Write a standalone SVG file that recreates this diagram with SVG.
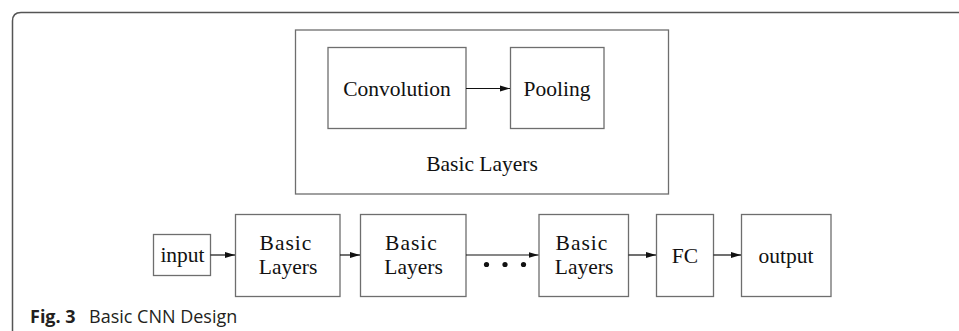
<svg xmlns="http://www.w3.org/2000/svg" width="959" height="331" viewBox="0 0 959 331">
<defs>
<style>
.box{fill:#fff;stroke:#6e6e6e;stroke-width:1.3}
.t{font-family:"Liberation Serif","Times New Roman",serif;font-size:21.5px;fill:#111;text-anchor:middle}
.c{stroke:#111;stroke-width:1.2;fill:none}
.cap{font-family:"Open Sans","Noto Sans",sans-serif;font-size:18px;fill:#231f20}
</style>
<marker id="ah" viewBox="0 0 10 10" refX="10" refY="5" markerWidth="10" markerHeight="10" markerUnits="userSpaceOnUse" orient="auto">
<path d="M0,2 L10,5 L0,8 Z" fill="#111"/>
</marker>
</defs>
<rect width="959" height="331" fill="#fff"/>
<path d="M12.5,331 V21 Q12.5,12.5 21,12.5 H959" fill="none" stroke="#555" stroke-width="1.5"/>

<g id="basic-layers-detail">
<rect class="box" x="295.5" y="30" width="373" height="164"/>
<text class="t" x="482" y="170.5">Basic Layers</text>
</g>
<g id="convolution">
<rect class="box" x="328" y="47.5" width="138" height="81"/>
<text class="t" x="397" y="96">Convolution</text>
</g>
<g id="pooling">
<rect class="box" x="510.5" y="47.5" width="93.5" height="81"/>
<text class="t" x="557" y="96">Pooling</text>
</g>

<g id="input">
<rect class="box" x="153.5" y="234.5" width="57" height="41"/>
<text class="t" x="182.5" y="262">input</text>
</g>
<g id="basic1">
<rect class="box" x="235.5" y="214.5" width="104.5" height="82"/>
<text class="t" x="286" y="249.5" letter-spacing="1">Basic</text>
<text class="t" x="288" y="274">Layers</text>
</g>
<g id="basic2">
<rect class="box" x="360.5" y="214.5" width="105.5" height="82"/>
<text class="t" x="411.5" y="249.5" letter-spacing="1">Basic</text>
<text class="t" x="413.5" y="274">Layers</text>
</g>
<g id="basic3">
<rect class="box" x="539" y="214.5" width="89.5" height="82"/>
<text class="t" x="582" y="249.5" letter-spacing="1">Basic</text>
<text class="t" x="584" y="274">Layers</text>
</g>
<g id="fc">
<rect class="box" x="656.5" y="214.5" width="57" height="82"/>
<text class="t" x="685" y="262.5">FC</text>
</g>
<g id="output">
<rect class="box" x="741.5" y="214.5" width="89.5" height="82"/>
<text class="t" x="786" y="262.5">output</text>
</g>

<g id="connectors">
<line class="c" x1="466" y1="88.5" x2="510" y2="88.5" marker-end="url(#ah)"/>
<line class="c" x1="210.5" y1="255" x2="235" y2="255" marker-end="url(#ah)"/>
<line class="c" x1="340" y1="255" x2="360" y2="255" marker-end="url(#ah)"/>
<line class="c" x1="466" y1="255" x2="538.5" y2="255" marker-end="url(#ah)"/>
<line class="c" x1="628.5" y1="255" x2="656" y2="255" marker-end="url(#ah)"/>
<line class="c" x1="713.5" y1="255" x2="741" y2="255" marker-end="url(#ah)"/>
<circle cx="486.5" cy="264.5" r="2.6" fill="#111"/>
<circle cx="505" cy="264.5" r="2.6" fill="#111"/>
<circle cx="523.5" cy="264.5" r="2.6" fill="#111"/>
</g>

<text class="cap" x="30" y="322.5"><tspan font-weight="bold">Fig. 3</tspan><tspan x="89">Basic CNN Design</tspan></text>
</svg>
